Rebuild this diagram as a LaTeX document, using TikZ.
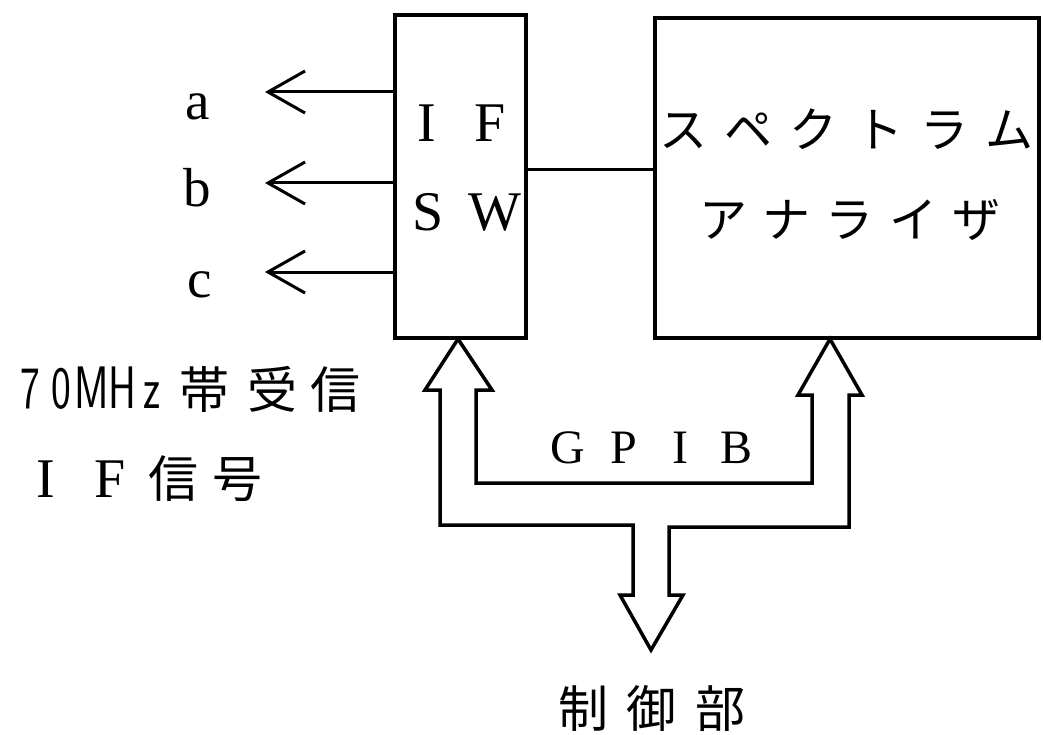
\documentclass[tikz,border=0pt]{standalone}
\usepackage{fontspec}
\usepackage{graphicx}
\setmainfont{Liberation Serif}
\newfontfamily\jp{Noto Sans CJK JP}
\usetikzlibrary{arrows.meta}
\newcommand\cb[2]{\makebox[#1pt]{#2}}
\newcommand\nd[1]{\makebox[30.5pt]{\scalebox{0.7}[1]{#1}}}
\begin{document}
\begin{tikzpicture}[x=1pt,y=-1pt,
  blk/.style={draw, line width=4pt, rectangle, inner sep=0pt},
  lbl/.style={inner sep=0pt, anchor=base},
  wire/.style={line width=3pt},
  sig/.style={line width=3pt, -{Straight Barb[length=37pt,width=42pt]}},
  bus/.style={line width=3.5pt, line join=miter}]
\useasboundingbox (0,0) rectangle (1043,735);

% blocks
\node[blk, minimum width=131pt, minimum height=323pt] (ifsw) at (460.5,176.5) {};
\node[blk, minimum width=384pt, minimum height=320pt] (sa) at (847,178) {};

% block texts
\node[lbl] (ifl1) at (458.5,142) {\fontsize{56}{60}\selectfont\cb{63}{I}\cb{63}{F}};
\node[lbl] (ifl2) at (461.5,230) {\fontsize{56}{60}\selectfont\cb{67}{S}\cb{67}{W}};
\node[lbl] (sal1) at (846.5,148) {\jp\fontsize{48}{52}\selectfont\cb{65.4}{ス}\cb{65.4}{ペ}\cb{65.4}{ク}\cb{65.4}{ト}\cb{65.4}{ラ}\cb{65.4}{ム}};
\node[lbl] (sal2) at (850,237) {\jp\fontsize{48}{52}\selectfont\cb{63.5}{ア}\cb{63.5}{ナ}\cb{63.5}{ラ}\cb{63.5}{イ}\cb{63.5}{ザ}};

% link between blocks
\draw[wire] (ifsw.east |- 0,170) -- (sa.west |- 0,170);

% outputs a, b, c
\coordinate (ta) at (265,92);
\coordinate (tb) at (265,183);
\coordinate (tc) at (265,272);
\draw[sig] (ifsw.west |- ta) -- (ta);
\draw[sig] (ifsw.west |- tb) -- (tb);
\draw[sig] (ifsw.west |- tc) -- (tc);
\node[lbl] (la) at (198,120) {\fontsize{55}{60}\selectfont a};
\node[lbl] (lb) at (197,207) {\fontsize{55}{60}\selectfont b};
\node[lbl] (lc) at (200,297) {\fontsize{55}{60}\selectfont c};

% input label
\node[lbl, anchor=base west] (in1) at (15,408) {\fontsize{60}{64}\selectfont\sffamily\nd{7}\nd{0}\nd{M}\nd{H}\nd{z}\jp\fontsize{50}{55}\selectfont\cb{73}{帯}\cb{63}{受}\cb{63}{信}};
\node[lbl, anchor=base west] (in2) at (13.5,497) {\fontsize{56}{60}\selectfont\cb{64}{I}\cb{64}{F}\jp\fontsize{50}{55}\selectfont\cb{64}{信}\cb{64}{号}};

% GPIB bus
\draw[bus] (425,390) -- (458,339) -- (492,390) -- (476,390) -- (476,483)
  -- (812,483) -- (812,395) -- (798,395) -- (830,339) -- (862,395) -- (849,395)
  -- (849,527) -- (669,527) -- (669,595) -- (683,595) -- (651,650) -- (620,595)
  -- (633,595) -- (633,525) -- (440,525) -- (440,390) -- cycle;
\node[lbl] (gpib) at (652.5,463) {\fontsize{48}{52}\selectfont\cb{56.3}{G}\cb{56.3}{P}\cb{56.3}{I}\cb{56.3}{B}};

% controller
\node[lbl] (ctl) at (651.5,727) {\jp\fontsize{50}{55}\selectfont\cb{68.5}{制}\cb{68.5}{御}\cb{68.5}{部}};
\end{tikzpicture}
\end{document}
